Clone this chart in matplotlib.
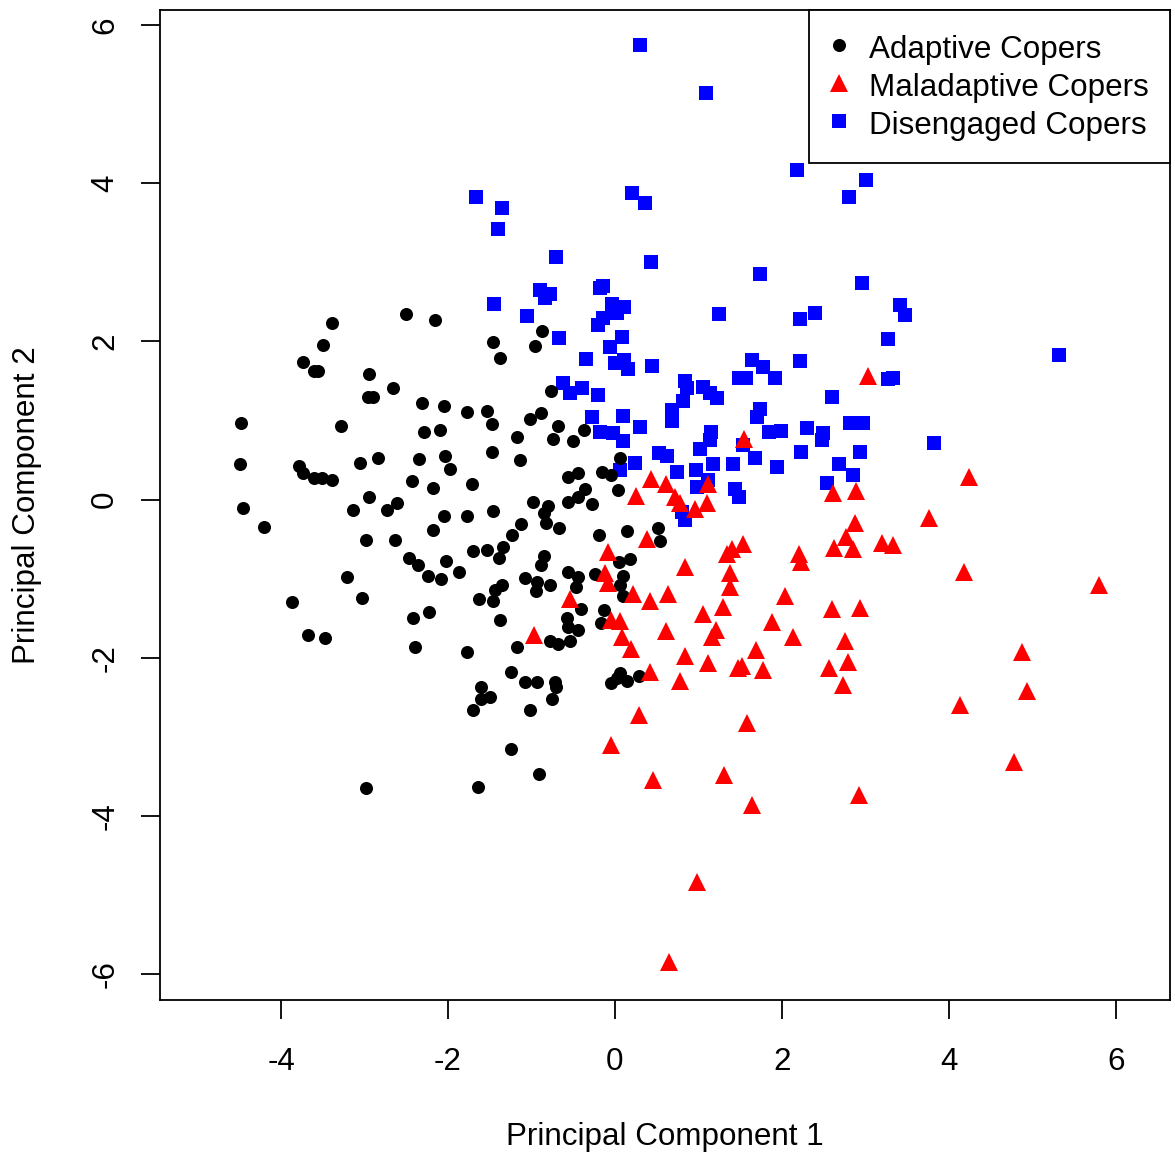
import matplotlib
matplotlib.use("Agg")
import matplotlib.pyplot as plt

plt.rcParams["font.family"] = ["Liberation Sans", "DejaVu Sans"]
plt.rcParams["axes.unicode_minus"] = False

# Adaptive copers (black circles)
adaptive_x = [-3.39, -2.50, -2.16, -3.50, -3.74, -3.60, -3.56, -2.95, -2.66, -2.96,
              -2.90, -2.31, -2.05, -4.48, -3.28, -2.29, -2.10, -3.05, -2.84, -3.78,
              -3.74, -3.60, -3.51, -3.39, -4.49, -2.35, -2.04, -1.98, -2.43, -2.18,
              -4.46, -4.20, -2.95, -3.14, -2.73, -2.61, -2.05, -2.18, -2.98, -2.63,
              -2.47, -2.36, -2.02, -1.87, -2.24, -2.08, -3.21, -3.03, -3.87, -2.42,
              -2.23, -3.68, -3.47, -2.40, -2.98, -0.87, -1.46, -1.38, -0.96, -0.77,
              -1.77, -1.53, -1.47, -1.17, -1.02, -0.89, -0.68, -0.74, -0.50, -0.37,
              -1.47, -1.14, 0.06, -0.56, -0.44, -0.16, -0.05, -1.71, 0.04, -0.36,
              -0.44, -0.56, -0.28, -0.98, -0.80, -0.85, -1.46, -1.77, -1.13, -0.83,
              -0.67, -1.23, -0.19, 0.14, 0.51, 0.54, -1.34, -1.70, -1.53, -1.39,
              -0.85, -0.89, 0.05, 0.18, -0.56, -0.24, -0.44, 0.10, 0.06, -0.47,
              -1.08, -0.93, -0.78, -0.95, -1.35, -1.44, -1.63, -1.46, 0.10, -0.41,
              -0.13, -0.57, -1.38, -1.17, -1.77, -0.78, -0.68, -0.54, -0.56, -0.44,
              -0.17, -1.25, -1.08, -0.93, -0.72, -0.71, -0.75, -1.60, -1.50, -1.60,
              -1.70, -1.02, -0.05, 0.06, 0.02, 0.14, 0.29, -1.25, -0.91, -1.64]
adaptive_y = [2.23, 2.35, 2.27, 1.95, 1.74, 1.62, 1.62, 1.59, 1.41, 1.30,
              1.30, 1.22, 1.18, 0.97, 0.93, 0.85, 0.88, 0.46, 0.52, 0.42,
              0.34, 0.27, 0.27, 0.25, 0.45, 0.51, 0.55, 0.39, 0.23, 0.15,
              -0.11, -0.35, 0.03, -0.13, -0.13, -0.04, -0.21, -0.39, -0.51, -0.51,
              -0.74, -0.83, -0.78, -0.92, -0.97, -1.01, -0.98, -1.25, -1.30, -1.50,
              -1.42, -1.71, -1.75, -1.87, -3.65, 2.13, 1.99, 1.79, 1.94, 1.37,
              1.11, 1.12, 0.95, 0.79, 1.02, 1.09, 0.93, 0.77, 0.74, 0.88,
              0.60, 0.50, 0.52, 0.28, 0.34, 0.35, 0.31, 0.20, 0.12, 0.13,
              0.03, -0.03, -0.06, -0.03, -0.08, -0.17, -0.15, -0.21, -0.31, -0.30,
              -0.36, -0.45, -0.45, -0.40, -0.36, -0.52, -0.60, -0.65, -0.64, -0.74,
              -0.71, -0.83, -0.79, -0.75, -0.92, -0.94, -0.98, -0.97, -1.08, -1.11,
              -0.99, -1.04, -1.08, -1.16, -1.08, -1.14, -1.26, -1.28, -1.22, -1.38,
              -1.40, -1.50, -1.52, -1.87, -1.93, -1.79, -1.83, -1.79, -1.61, -1.65,
              -1.56, -2.18, -2.31, -2.31, -2.31, -2.37, -2.52, -2.37, -2.50, -2.52,
              -2.66, -2.66, -2.32, -2.19, -2.26, -2.30, -2.23, -3.16, -3.47, -3.64]

# Maladaptive copers (red triangles)
maladaptive_x = [0.43, 0.61, 0.25, 0.72, 0.78, 0.96, 1.11, 1.10, 0.38, -0.08,
                 -0.12, -0.08, 0.22, 0.42, 0.63, -0.54, 0.84, 1.34, 1.40, 1.53,
                 1.38, 1.38, 1.29, 1.05, -0.05, 0.06, -0.97, 0.08, 0.19, 0.61,
                 0.84, 1.11, 1.21, 1.16, 0.42, 0.78, 1.47, 0.29, -0.05, 0.46,
                 1.31, 1.54, 4.24, 2.61, 2.89, 3.76, 2.87, 2.77, 2.62, 2.85,
                 3.20, 3.33, 2.20, 2.23, 4.18, 2.04, 2.60, 2.93, 1.88, 2.13,
                 1.69, 1.52, 1.77, 2.75, 2.79, 2.56, 2.73, 4.13, 1.58, 4.78,
                 2.92, 1.64, 4.87, 4.93, 3.03, 5.80, 0.98, 0.65]
maladaptive_y = [0.26, 0.20, 0.04, 0.03, -0.04, -0.12, 0.20, -0.04, -0.50, -0.66,
                 -0.93, -1.06, -1.19, -1.28, -1.19, -1.26, -0.85, -0.69, -0.63, -0.56,
                 -0.93, -1.11, -1.36, -1.45, -1.52, -1.54, -1.71, -1.74, -1.89, -1.66,
                 -1.98, -2.07, -1.65, -1.74, -2.18, -2.30, -2.13, -2.73, -3.10, -3.55,
                 -3.48, 0.77, 0.28, 0.08, 0.11, -0.23, -0.30, -0.47, -0.61, -0.63,
                 -0.55, -0.58, -0.69, -0.79, -0.92, -1.22, -1.38, -1.37, -1.55, -1.74,
                 -1.90, -2.11, -2.16, -1.79, -2.05, -2.13, -2.35, -2.60, -2.83, -3.32,
                 -3.74, -3.86, -1.93, -2.42, 1.56, -1.08, -4.84, -5.85]

# Disengaged copers (blue squares)
disengaged_x = [0.30, 1.09, 2.18, 3.01, 2.80, -1.66, -1.35, -1.40, 0.20, 0.36,
                -0.71, 0.43, 1.74, 2.96, -0.90, -0.78, -0.84, -0.14, -0.18, -1.45,
                -1.05, -0.04, 0.11, 0.02, -0.14, -0.20, 1.25, -0.67, 0.08, -0.06,
                -0.35, 0.00, 0.11, 0.16, 0.44, -0.62, -0.40, -0.54, -0.20, 0.84,
                0.86, 1.05, 1.14, 1.22, 1.49, 0.81, -0.28, 0.10, 0.30, -0.18,
                -0.02, 0.10, 0.68, 0.68, 0.53, 0.62, 0.24, 0.06, 0.74, 0.97,
                0.98, 1.14, 1.15, 1.17, 1.41, 1.44, 1.11, 0.80, 0.84, 1.02,
                3.41, 3.47, 2.22, 2.40, 3.27, 1.64, 1.77, 1.57, 1.92, 2.22,
                3.27, 3.33, 2.60, 1.74, 1.70, 1.84, 1.99, 2.30, 2.49, 2.48,
                2.81, 2.97, 1.53, 1.68, 2.23, 1.94, 2.68, 2.93, 2.85, 2.54,
                1.49, 3.82, 5.32]
disengaged_y = [5.75, 5.14, 4.17, 4.04, 3.83, 3.83, 3.69, 3.42, 3.88, 3.75,
                3.07, 3.00, 2.85, 2.74, 2.65, 2.60, 2.55, 2.70, 2.67, 2.47,
                2.32, 2.47, 2.43, 2.36, 2.30, 2.21, 2.35, 2.04, 2.05, 1.93,
                1.78, 1.73, 1.76, 1.65, 1.69, 1.47, 1.41, 1.35, 1.32, 1.50,
                1.41, 1.42, 1.35, 1.28, 1.54, 1.25, 1.04, 1.06, 0.92, 0.85,
                0.84, 0.74, 1.13, 0.99, 0.59, 0.55, 0.46, 0.37, 0.35, 0.37,
                0.16, 0.75, 0.85, 0.45, 0.45, 0.13, 0.25, -0.16, -0.26, 0.64,
                2.46, 2.33, 2.28, 2.36, 2.03, 1.76, 1.68, 1.54, 1.54, 1.75,
                1.52, 1.54, 1.30, 1.14, 1.04, 0.85, 0.87, 0.90, 0.84, 0.75,
                0.97, 0.97, 0.69, 0.52, 0.60, 0.41, 0.45, 0.60, 0.31, 0.21,
                0.03, 0.71, 1.83]

x_ticks = [-4, -2, 0, 2, 4, 6]
y_ticks = [-6, -4, -2, 0, 2, 4, 6]

FS = 22.6

fig = plt.figure(figsize=(11.75, 11.52), dpi=100)
ax = fig.add_axes([0.1362, 0.1319, 0.8595, 0.8594])

ax.plot(disengaged_x, disengaged_y, "s", color="#0000ff", ms=10, mew=0,
        label="Disengaged Copers", zorder=2)
ax.plot(adaptive_x, adaptive_y, "o", color="black", ms=9.4, mew=0,
        label="Adaptive Copers", zorder=3)
ax.plot(maladaptive_x, maladaptive_y, "^", color="#ff0000", ms=12.5, mew=0,
        label="Maladaptive Copers", zorder=4)

ax.set_xlim(-5.449, 6.647)
ax.set_ylim(-6.329, 6.190)
ax.set_xticks(x_ticks)
ax.set_yticks(y_ticks)
ax.tick_params(direction="out", length=13.7, width=1.3, labelsize=FS)
ax.tick_params(axis="x", pad=20)
ax.tick_params(axis="y", pad=15)
for lab in ax.get_yticklabels():
    lab.set_rotation(90)
    lab.set_va("center")
for s in ax.spines.values():
    s.set_linewidth(1.3)

fig.text(665 / 1175, 1 - 1137.5 / 1152, "Principal Component 1", fontsize=FS,
         ha="center", va="center")
fig.text(27 / 1175, 1 - 505 / 1152, "Principal Component 2", fontsize=FS,
         ha="center", va="center", rotation=90)

handles, labels = ax.get_legend_handles_labels()
order = [1, 2, 0]
leg = ax.legend([handles[i] for i in order], [labels[i] for i in order],
                loc="upper right", borderaxespad=0, fontsize=FS,
                fancybox=False, framealpha=1, edgecolor="black",
                handlelength=0.57, handleheight=1.21, handletextpad=0.67,
                borderpad=0.68, labelspacing=0.14)
leg.get_frame().set_linewidth(1.3)

fig.savefig("out.png", dpi=100)
